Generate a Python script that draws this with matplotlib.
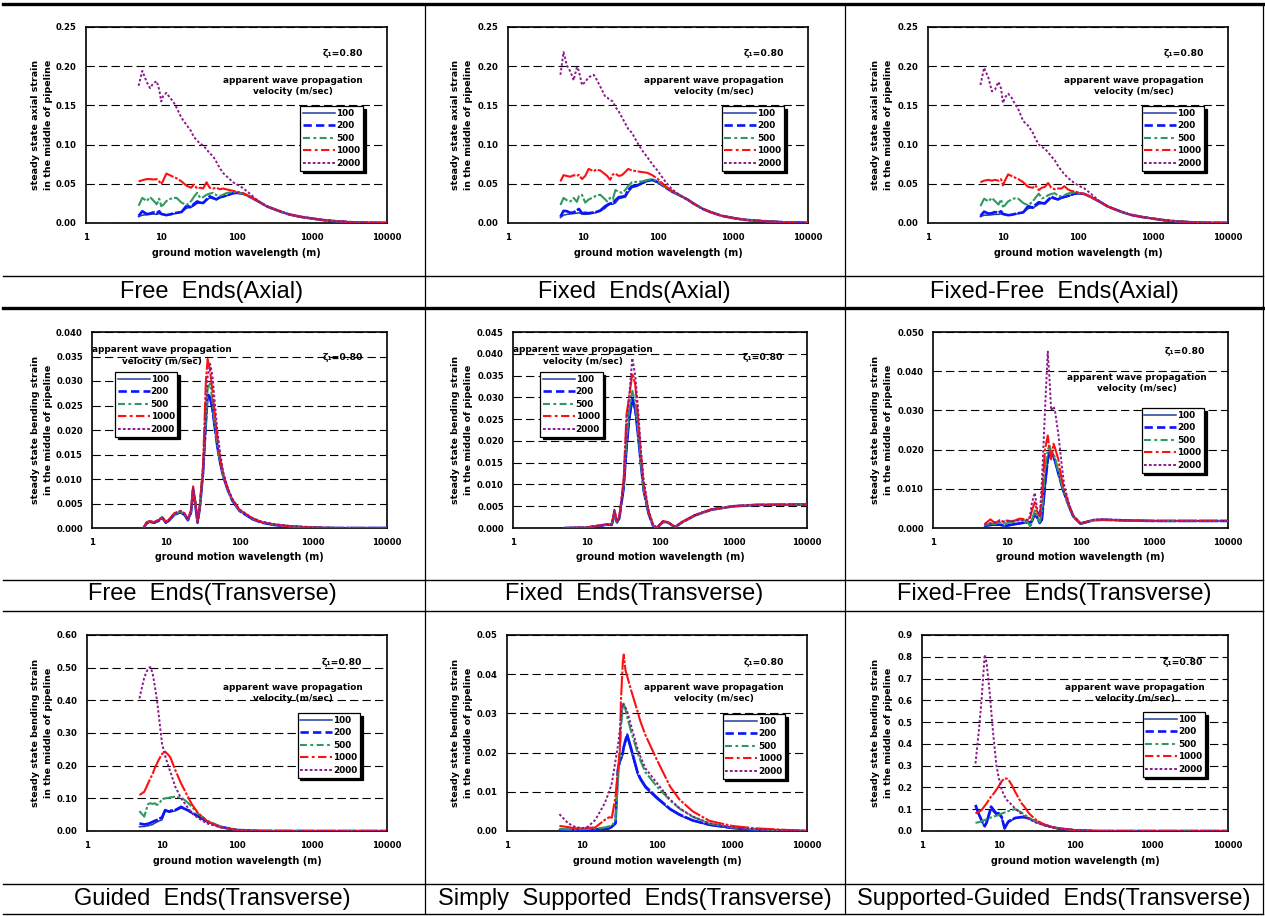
import matplotlib
matplotlib.use('Agg')
import matplotlib.pyplot as plt
from matplotlib.lines import Line2D
from matplotlib.ticker import MultipleLocator, FormatStrFormatter, FixedLocator, NullLocator

plt.rcParams['font.family'] = ['DejaVu Sans']
plt.rcParams['font.weight'] = 'bold'
plt.rcParams['lines.scale_dashes'] = False

W, H = 1265, 916

series_names = ['100', '200', '500', '1000', '2000']
series_colors = ['#1f3c9a', '#0a14ff', '#2e9a5e', '#ff1010', '#8b1a8b']
series_widths = [1.1, 1.9, 1.5, 1.5, 1.4]
plot_dashes = [None, (14, 1.2), (9, 1.5, 2, 1.5), (14, 1.2, 2, 1.2), (1.8, 1.5)]
legend_dashes = [None, (6, 3), (5, 2.5, 2, 2.5), (6, 2.5, 2, 2.5), (2, 1.5)]

x_ticks = [1, 10, 100, 1000, 10000]

# ---- Free Ends (Axial) ----
free_axial_x = [5, 5.6, 6.4, 7.1, 7.8, 8.7, 9.4, 10, 10.6, 11.7, 13, 14.4, 16, 18.6, 21.7, 25, 27, 30,
                33, 36, 40, 44, 49, 54, 60, 66, 73, 81, 90, 100, 122, 150,
                200, 250, 300, 400, 500, 700, 1000, 1400, 2000, 3500, 5000, 10000]
free_axial_tail = [0.0270, 0.0215, 0.0185, 0.0140, 0.0110, 0.0080, 0.0058, 0.0038, 0.0024, 0.0009, 0.0005, 0.0002]
free_axial_100 = [0.0080, 0.0100, 0.0105, 0.0110, 0.0115, 0.0110, 0.0120, 0.0115, 0.0110, 0.0100, 0.0105,
                  0.0115, 0.0125, 0.0140, 0.0190, 0.0200, 0.0220, 0.0250, 0.0255, 0.0250, 0.0290, 0.0320,
                  0.0310, 0.0300, 0.0320, 0.0330, 0.0345, 0.0360, 0.0375, 0.0380, 0.0375, 0.0335] + free_axial_tail
free_axial_200 = [0.0090, 0.0150, 0.0115, 0.0120, 0.0135, 0.0125, 0.0150, 0.0115, 0.0110, 0.0100, 0.0110,
                  0.0120, 0.0130, 0.0140, 0.0220, 0.0200, 0.0240, 0.0275, 0.0260, 0.0255, 0.0300, 0.0340,
                  0.0320, 0.0300, 0.0330, 0.0340, 0.0350, 0.0365, 0.0380, 0.0385, 0.0375, 0.0335] + free_axial_tail
free_axial_500 = [0.0220, 0.0320, 0.0280, 0.0330, 0.0290, 0.0240, 0.0310, 0.0215, 0.0230, 0.0280, 0.0305,
                  0.0320, 0.0320, 0.0260, 0.0230, 0.0280, 0.0330, 0.0385, 0.0320, 0.0330, 0.0360, 0.0375,
                  0.0385, 0.0355, 0.0345, 0.0360, 0.0380, 0.0390, 0.0395, 0.0390, 0.0375, 0.0335] + free_axial_tail
free_axial_1000 = [0.0530, 0.0545, 0.0560, 0.0560, 0.0555, 0.0560, 0.0530, 0.0495, 0.0540, 0.0630, 0.0610,
                   0.0590, 0.0570, 0.0530, 0.0475, 0.0450, 0.0490, 0.0440, 0.0450, 0.0440, 0.0520, 0.0450,
                   0.0440, 0.0450, 0.0430, 0.0440, 0.0430, 0.0420, 0.0410, 0.0400, 0.0380, 0.0340] + free_axial_tail
free_axial_2000 = [0.1750, 0.1940, 0.1800, 0.1720, 0.1780, 0.1810, 0.1700, 0.1550, 0.1620, 0.1660, 0.1600,
                   0.1550, 0.1470, 0.1340, 0.1250, 0.1170, 0.1100, 0.1050, 0.1010, 0.0990, 0.0940, 0.0890,
                   0.0850, 0.0780, 0.0700, 0.0640, 0.0600, 0.0560, 0.0520, 0.0495, 0.0445, 0.0375] + free_axial_tail

# ---- Fixed Ends (Axial) ----
fixed_axial_x = [5, 5.5, 6.1, 6.8, 7.5, 8.3, 8.8, 9.7, 10.7, 11.9, 13.9, 15, 17, 19.8, 21, 23, 25, 27, 30,
                 33, 36.6, 40, 45, 52, 61, 72, 84, 100, 125, 154,
                 200, 250, 300, 400, 500, 700, 1000, 1400, 2000, 3500, 5000, 10000]
fixed_axial_tail = [0.0347, 0.0297, 0.0246, 0.0178, 0.0140, 0.0093, 0.0064, 0.0042, 0.0030, 0.0017, 0.0008, 0.0004]
fixed_axial_100 = [0.0070, 0.0100, 0.0110, 0.0115, 0.0120, 0.0125, 0.0130, 0.0115, 0.0110, 0.0115, 0.0125,
                   0.0135, 0.0150, 0.0190, 0.0215, 0.0240, 0.0240, 0.0255, 0.0310, 0.0320, 0.0330, 0.0390,
                   0.0450, 0.0470, 0.0500, 0.0530, 0.0545, 0.0515, 0.0455, 0.0400] + fixed_axial_tail
fixed_axial_200 = [0.0080, 0.0155, 0.0150, 0.0130, 0.0135, 0.0160, 0.0180, 0.0125, 0.0130, 0.0125, 0.0135,
                   0.0140, 0.0160, 0.0215, 0.0230, 0.0250, 0.0250, 0.0290, 0.0330, 0.0335, 0.0345, 0.0420,
                   0.0470, 0.0475, 0.0510, 0.0540, 0.0550, 0.0520, 0.0455, 0.0400] + fixed_axial_tail
fixed_axial_500 = [0.0230, 0.0320, 0.0290, 0.0275, 0.0320, 0.0270, 0.0340, 0.0360, 0.0260, 0.0300, 0.0330,
                   0.0350, 0.0360, 0.0300, 0.0275, 0.0320, 0.0300, 0.0420, 0.0400, 0.0385, 0.0420, 0.0470,
                   0.0520, 0.0525, 0.0530, 0.0550, 0.0560, 0.0530, 0.0460, 0.0400] + fixed_axial_tail
fixed_axial_1000 = [0.0530, 0.0610, 0.0600, 0.0590, 0.0610, 0.0600, 0.0615, 0.0560, 0.0600, 0.0690, 0.0660,
                    0.0680, 0.0670, 0.0620, 0.0600, 0.0550, 0.0620, 0.0630, 0.0600, 0.0610, 0.0650, 0.0690,
                    0.0670, 0.0660, 0.0650, 0.0640, 0.0610, 0.0560, 0.0470, 0.0410] + fixed_axial_tail
fixed_axial_2000 = [0.1890, 0.2180, 0.2010, 0.1930, 0.1820, 0.1990, 0.1940, 0.1760, 0.1800, 0.1860, 0.1890,
                    0.1840, 0.1740, 0.1610, 0.1600, 0.1570, 0.1550, 0.1480, 0.1420, 0.1350, 0.1270, 0.1200,
                    0.1150, 0.1040, 0.0930, 0.0840, 0.0750, 0.0660, 0.0530, 0.0430] + fixed_axial_tail

# ---- Fixed-Free Ends (Axial) ----
ffree_axial_x = free_axial_x
ffree_axial_tail = [0.0265, 0.0210, 0.0180, 0.0135, 0.0105, 0.0078, 0.0056, 0.0036, 0.0022, 0.0008, 0.0004, 0.0002]
ffree_axial_100 = [0.0080, 0.0100, 0.0100, 0.0105, 0.0110, 0.0110, 0.0115, 0.0110, 0.0105, 0.0100, 0.0105,
                   0.0110, 0.0120, 0.0135, 0.0185, 0.0195, 0.0210, 0.0240, 0.0250, 0.0245, 0.0280, 0.0320,
                   0.0305, 0.0300, 0.0315, 0.0325, 0.0340, 0.0355, 0.0370, 0.0375, 0.0365, 0.0330] + ffree_axial_tail
ffree_axial_200 = [0.0090, 0.0145, 0.0120, 0.0125, 0.0140, 0.0130, 0.0150, 0.0115, 0.0110, 0.0100, 0.0105,
                   0.0115, 0.0125, 0.0135, 0.0215, 0.0195, 0.0230, 0.0265, 0.0255, 0.0250, 0.0295, 0.0335,
                   0.0315, 0.0300, 0.0325, 0.0335, 0.0345, 0.0360, 0.0375, 0.0380, 0.0370, 0.0330] + ffree_axial_tail
ffree_axial_500 = [0.0215, 0.0310, 0.0275, 0.0320, 0.0280, 0.0235, 0.0300, 0.0210, 0.0225, 0.0275, 0.0300,
                   0.0315, 0.0310, 0.0255, 0.0225, 0.0275, 0.0320, 0.0375, 0.0315, 0.0325, 0.0355, 0.0370,
                   0.0380, 0.0350, 0.0340, 0.0355, 0.0375, 0.0385, 0.0390, 0.0385, 0.0370, 0.0330] + ffree_axial_tail
ffree_axial_1000 = [0.0520, 0.0540, 0.0550, 0.0540, 0.0550, 0.0540, 0.0560, 0.0480, 0.0540, 0.0620, 0.0600,
                    0.0580, 0.0560, 0.0520, 0.0460, 0.0450, 0.0480, 0.0420, 0.0450, 0.0460, 0.0510, 0.0450,
                    0.0430, 0.0440, 0.0440, 0.0470, 0.0430, 0.0410, 0.0400, 0.0390, 0.0370, 0.0330] + ffree_axial_tail
ffree_axial_2000 = [0.1760, 0.1980, 0.1850, 0.1680, 0.1700, 0.1800, 0.1720, 0.1530, 0.1600, 0.1650, 0.1600,
                    0.1520, 0.1450, 0.1300, 0.1240, 0.1150, 0.1080, 0.1000, 0.0970, 0.0950, 0.0900, 0.0850,
                    0.0800, 0.0730, 0.0670, 0.0620, 0.0580, 0.0540, 0.0510, 0.0480, 0.0440, 0.0370] + ffree_axial_tail

# ---- Free Ends (Transverse) ----
free_trans_x = [5, 5.5, 6, 7, 8, 8.5, 9, 10, 11, 13, 15, 16, 18, 20, 22, 23.5, 25, 27, 29, 32, 35, 37, 40,
                43, 46, 50, 55, 60, 70, 80, 100, 150, 200, 300, 500, 1000, 2000, 10000]
free_trans_100 = [0.0000, 0.0008, 0.0012, 0.0010, 0.0014, 0.0018, 0.0020, 0.0010, 0.0014, 0.0026, 0.0030,
                  0.0031, 0.0026, 0.0015, 0.0030, 0.0075, 0.0050, 0.0010, 0.0040, 0.0110, 0.0210, 0.0268,
                  0.0262, 0.0240, 0.0205, 0.0165, 0.0130, 0.0105, 0.0075, 0.0055, 0.0035, 0.0018, 0.0011,
                  0.0006, 0.0003, 0.0001, 0.0000, 0.0000]
free_trans_200 = [0.0000, 0.0010, 0.0013, 0.0011, 0.0015, 0.0019, 0.0021, 0.0011, 0.0015, 0.0027, 0.0031,
                  0.0032, 0.0027, 0.0016, 0.0032, 0.0078, 0.0052, 0.0011, 0.0042, 0.0112, 0.0215, 0.0274,
                  0.0266, 0.0243, 0.0208, 0.0167, 0.0132, 0.0106, 0.0076, 0.0056, 0.0035, 0.0018, 0.0011,
                  0.0006, 0.0003, 0.0001, 0.0000, 0.0000]
free_trans_500 = [0.0000, 0.0011, 0.0013, 0.0012, 0.0016, 0.0019, 0.0022, 0.0012, 0.0016, 0.0028, 0.0032,
                  0.0033, 0.0028, 0.0017, 0.0034, 0.0080, 0.0055, 0.0012, 0.0045, 0.0120, 0.0220, 0.0285,
                  0.0295, 0.0258, 0.0215, 0.0170, 0.0135, 0.0108, 0.0077, 0.0057, 0.0036, 0.0019, 0.0012,
                  0.0007, 0.0003, 0.0001, 0.0000, 0.0000]
free_trans_1000 = [0.0000, 0.0012, 0.0014, 0.0012, 0.0017, 0.0020, 0.0022, 0.0013, 0.0017, 0.0030, 0.0034,
                   0.0035, 0.0030, 0.0018, 0.0036, 0.0085, 0.0058, 0.0013, 0.0047, 0.0125, 0.0300, 0.0345,
                   0.0320, 0.0280, 0.0235, 0.0185, 0.0140, 0.0110, 0.0078, 0.0058, 0.0037, 0.0020, 0.0012,
                   0.0007, 0.0003, 0.0001, 0.0000, 0.0000]
free_trans_2000 = [0.0000, 0.0010, 0.0013, 0.0012, 0.0016, 0.0019, 0.0021, 0.0012, 0.0016, 0.0029, 0.0033,
                   0.0034, 0.0029, 0.0017, 0.0034, 0.0082, 0.0056, 0.0012, 0.0044, 0.0115, 0.0250, 0.0310,
                   0.0335, 0.0310, 0.0260, 0.0200, 0.0150, 0.0115, 0.0080, 0.0060, 0.0038, 0.0020, 0.0013,
                   0.0008, 0.0004, 0.0001, 0.0000, 0.0000]

# ---- Fixed Ends (Transverse) ----
fixed_trans_x = [5, 10, 15, 20, 22, 24, 26, 28, 32, 35, 38, 42, 46, 50, 55, 60, 70, 80, 90, 110, 130, 160,
                 200, 300, 500, 1000, 2000, 10000]
fixed_trans_100 = [0.0000, 0.0001, 0.0005, 0.0008, 0.0006, 0.0030, 0.0012, 0.0022, 0.0090, 0.0180, 0.0245,
                   0.0293, 0.0270, 0.0215, 0.0145, 0.0085, 0.0032, 0.0006, 0.0000, 0.0014, 0.0012, 0.0002,
                   0.0013, 0.0029, 0.0042, 0.0050, 0.0053, 0.0054]
fixed_trans_200 = [0.0000, 0.0001, 0.0005, 0.0008, 0.0007, 0.0031, 0.0013, 0.0023, 0.0092, 0.0183, 0.0250,
                   0.0297, 0.0273, 0.0218, 0.0147, 0.0086, 0.0033, 0.0006, 0.0000, 0.0014, 0.0012, 0.0002,
                   0.0013, 0.0029, 0.0042, 0.0050, 0.0053, 0.0054]
fixed_trans_500 = [0.0000, 0.0001, 0.0006, 0.0009, 0.0008, 0.0034, 0.0014, 0.0025, 0.0100, 0.0200, 0.0270,
                   0.0315, 0.0290, 0.0230, 0.0152, 0.0088, 0.0034, 0.0007, 0.0000, 0.0015, 0.0012, 0.0002,
                   0.0013, 0.0029, 0.0042, 0.0050, 0.0053, 0.0054]
fixed_trans_1000 = [0.0000, 0.0001, 0.0006, 0.0009, 0.0008, 0.0042, 0.0015, 0.0027, 0.0110, 0.0260, 0.0300,
                    0.0355, 0.0330, 0.0260, 0.0170, 0.0100, 0.0038, 0.0008, 0.0000, 0.0016, 0.0013, 0.0002,
                    0.0014, 0.0030, 0.0043, 0.0050, 0.0053, 0.0054]
fixed_trans_2000 = [0.0000, 0.0001, 0.0006, 0.0009, 0.0008, 0.0040, 0.0015, 0.0026, 0.0105, 0.0240, 0.0300,
                    0.0390, 0.0350, 0.0280, 0.0180, 0.0110, 0.0040, 0.0009, 0.0001, 0.0016, 0.0013, 0.0003,
                    0.0014, 0.0030, 0.0043, 0.0050, 0.0053, 0.0054]

# ---- Fixed-Free Ends (Transverse) ----
ffree_trans_x = [5, 6, 7, 8, 9, 10, 12, 15, 18, 20, 21, 22, 24, 26, 28, 30, 33, 36, 38, 40, 43, 45, 50, 55,
                 60, 70, 80, 100, 120, 150, 200, 500, 1000, 10000]
ffree_trans_100 = [0.0004, 0.0006, 0.0008, 0.0007, 0.0005, 0.0005, 0.0008, 0.0011, 0.0013, 0.0013, 0.0014,
                   0.0016, 0.0034, 0.0025, 0.0012, 0.0020, 0.0105, 0.0170, 0.0190, 0.0192, 0.0180, 0.0170,
                   0.0138, 0.0110, 0.0088, 0.0054, 0.0028, 0.0011, 0.0015, 0.0020, 0.0021, 0.0019, 0.0018, 0.0018]
ffree_trans_200 = [0.0005, 0.0010, 0.0008, 0.0009, 0.0007, 0.0006, 0.0009, 0.0012, 0.0014, 0.0014, 0.0015,
                   0.0018, 0.0036, 0.0026, 0.0013, 0.0022, 0.0110, 0.0175, 0.0193, 0.0195, 0.0183, 0.0172,
                   0.0140, 0.0112, 0.0089, 0.0055, 0.0029, 0.0011, 0.0015, 0.0020, 0.0021, 0.0019, 0.0018, 0.0018]
ffree_trans_500 = [0.0006, 0.0012, 0.0010, 0.0013, 0.0011, 0.0012, 0.0015, 0.0020, 0.0019, 0.0010, 0.0000,
                   0.0020, 0.0045, 0.0028, 0.0015, 0.0040, 0.0150, 0.0200, 0.0210, 0.0195, 0.0190, 0.0180,
                   0.0145, 0.0115, 0.0090, 0.0055, 0.0030, 0.0012, 0.0016, 0.0020, 0.0021, 0.0019, 0.0018, 0.0018]
ffree_trans_1000 = [0.0010, 0.0022, 0.0012, 0.0020, 0.0016, 0.0019, 0.0017, 0.0024, 0.0022, 0.0020, 0.0030,
                    0.0045, 0.0066, 0.0040, 0.0030, 0.0080, 0.0200, 0.0236, 0.0200, 0.0175, 0.0215, 0.0205,
                    0.0175, 0.0130, 0.0100, 0.0058, 0.0030, 0.0012, 0.0016, 0.0020, 0.0021, 0.0019, 0.0018, 0.0018]
ffree_trans_2000 = [0.0008, 0.0012, 0.0015, 0.0017, 0.0016, 0.0018, 0.0018, 0.0020, 0.0019, 0.0022, 0.0040,
                    0.0065, 0.0090, 0.0045, 0.0030, 0.0120, 0.0300, 0.0450, 0.0380, 0.0300, 0.0310, 0.0300,
                    0.0240, 0.0170, 0.0110, 0.0060, 0.0032, 0.0012, 0.0016, 0.0021, 0.0022, 0.0019, 0.0018, 0.0018]

# ---- Guided Ends (Transverse) ----
guided_x = [5, 5.8, 6.5, 7, 7.5, 8, 8.5, 9, 10, 11, 12.5, 13, 15, 18, 20, 22, 25, 30, 40, 60, 100, 200,
            1000, 10000]
guided_100 = [0.013, 0.014, 0.016, 0.018, 0.020, 0.024, 0.027, 0.030, 0.034, 0.060, 0.060, 0.058, 0.062,
              0.070, 0.067, 0.062, 0.055, 0.044, 0.028, 0.012, 0.003, 0.000, 0.000, 0.000]
guided_200 = [0.023, 0.020, 0.022, 0.025, 0.028, 0.031, 0.033, 0.036, 0.042, 0.064, 0.059, 0.062, 0.064,
              0.074, 0.068, 0.064, 0.056, 0.046, 0.029, 0.013, 0.003, 0.0005, 0.000, 0.000]
guided_500 = [0.061, 0.044, 0.082, 0.085, 0.083, 0.085, 0.080, 0.082, 0.097, 0.100, 0.102, 0.103, 0.105,
              0.102, 0.095, 0.087, 0.074, 0.054, 0.032, 0.013, 0.003, 0.000, 0.000, 0.000]
guided_1000 = [0.110, 0.120, 0.145, 0.161, 0.175, 0.192, 0.205, 0.217, 0.236, 0.243, 0.230, 0.224, 0.187,
               0.145, 0.125, 0.106, 0.082, 0.056, 0.030, 0.012, 0.003, 0.000, 0.000, 0.000]
guided_2000 = [0.406, 0.470, 0.497, 0.502, 0.483, 0.445, 0.406, 0.360, 0.268, 0.230, 0.190, 0.180, 0.136,
               0.100, 0.085, 0.072, 0.055, 0.040, 0.023, 0.011, 0.003, 0.000, 0.000, 0.000]

# ---- Simply Supported Ends (Transverse) ----
simple_x = [5, 6.5, 8, 10, 12, 15, 20, 23, 25, 28, 30, 32, 33, 35, 36, 38, 40, 45, 55, 60, 70, 100, 150,
            200, 300, 500, 1000, 2000, 10000]
simple_100 = [0.0003, 0.0002, 0.0002, 0.0002, 0.0002, 0.0003, 0.0004, 0.0006, 0.0010, 0.0018, 0.0150,
              0.0175, 0.0180, 0.0195, 0.0210, 0.0225, 0.0240, 0.0205, 0.0145, 0.0130, 0.0110, 0.0082,
              0.0054, 0.0040, 0.0026, 0.0015, 0.0007, 0.0003, 0.0000]
simple_200 = [0.0004, 0.0003, 0.0003, 0.0003, 0.0003, 0.0004, 0.0005, 0.0007, 0.0011, 0.0020, 0.0155,
              0.0180, 0.0185, 0.0200, 0.0215, 0.0232, 0.0246, 0.0212, 0.0150, 0.0134, 0.0114, 0.0085,
              0.0056, 0.0042, 0.0027, 0.0016, 0.0008, 0.0003, 0.0000]
simple_500 = [0.0005, 0.0004, 0.0004, 0.0005, 0.0005, 0.0006, 0.0009, 0.0012, 0.0013, 0.0030, 0.0120,
              0.0200, 0.0260, 0.0320, 0.0325, 0.0310, 0.0290, 0.0255, 0.0200, 0.0180, 0.0150, 0.0113,
              0.0078, 0.0057, 0.0036, 0.0019, 0.0009, 0.0004, 0.0000]
simple_1000 = [0.0013, 0.0010, 0.0007, 0.0007, 0.0008, 0.0009, 0.0028, 0.0035, 0.0034, 0.0088, 0.0150,
               0.0210, 0.0330, 0.0430, 0.0450, 0.0410, 0.0395, 0.0360, 0.0305, 0.0280, 0.0245, 0.0181,
               0.0113, 0.0080, 0.0050, 0.0026, 0.0013, 0.0007, 0.0000]
simple_2000 = [0.0043, 0.0020, 0.0011, 0.0007, 0.0011, 0.0028, 0.0070, 0.0100, 0.0122, 0.0180, 0.0215,
               0.0260, 0.0290, 0.0326, 0.0320, 0.0315, 0.0305, 0.0270, 0.0210, 0.0190, 0.0160, 0.0122,
               0.0080, 0.0058, 0.0037, 0.0020, 0.0009, 0.0004, 0.0000]

# ---- Supported-Guided Ends (Transverse) ----
sguided_x = [5, 5.5, 6, 6.6, 7, 7.7, 8, 8.5, 9.4, 10, 11, 12, 13, 13.6, 15, 16.5, 20, 22, 25, 30, 33, 40,
             50, 60, 100, 200, 1000, 10000]
sguided_100 = [0.110, 0.075, 0.045, 0.020, 0.035, 0.080, 0.100, 0.090, 0.075, 0.078, 0.060, 0.010, 0.030,
               0.040, 0.050, 0.058, 0.062, 0.062, 0.057, 0.044, 0.038, 0.027, 0.017, 0.011, 0.003, 0.000,
               0.000, 0.000]
sguided_200 = [0.120, 0.080, 0.050, 0.022, 0.040, 0.090, 0.112, 0.100, 0.080, 0.082, 0.065, 0.012, 0.035,
               0.045, 0.052, 0.060, 0.064, 0.063, 0.058, 0.045, 0.039, 0.028, 0.018, 0.012, 0.003, 0.000,
               0.000, 0.000]
sguided_500 = [0.038, 0.040, 0.045, 0.050, 0.054, 0.060, 0.062, 0.066, 0.070, 0.073, 0.080, 0.085, 0.089,
               0.092, 0.097, 0.100, 0.085, 0.075, 0.060, 0.045, 0.038, 0.028, 0.018, 0.012, 0.004, 0.000,
               0.000, 0.000]
sguided_1000 = [0.081, 0.088, 0.096, 0.115, 0.127, 0.150, 0.158, 0.168, 0.190, 0.204, 0.228, 0.242, 0.240,
                0.234, 0.210, 0.180, 0.127, 0.110, 0.081, 0.055, 0.045, 0.029, 0.018, 0.012, 0.004, 0.000,
                0.000, 0.000]
sguided_2000 = [0.310, 0.450, 0.600, 0.810, 0.770, 0.630, 0.560, 0.450, 0.300, 0.250, 0.190, 0.160, 0.140,
                0.135, 0.118, 0.104, 0.078, 0.066, 0.055, 0.040, 0.035, 0.025, 0.017, 0.011, 0.005, 0.000,
                0.000, 0.000]

axial_label = 'steady state axial strain\nin the middle of pipeline'
bending_label = 'steady state bending strain\nin the middle of pipeline'
note_text = 'apparent wave propagation\nvelocity (m/sec)'
zeta_text = '\u03b6\u2081=0.80'

fig = plt.figure(figsize=(W / 100, H / 100), dpi=100)


def draw_panel(box, x, ys, ymax, ystep, yfmt, ylabel, ylab_x, leg_loc, leg_anchor, zeta_xy, note_xy):
    l, t, r, b = box
    ax = fig.add_axes([l / W, 1 - b / H, (r - l) / W, (b - t) / H])
    ax.set_xscale('log')
    for y, c, lw, d in zip(ys, series_colors, series_widths, plot_dashes):
        line, = ax.plot(x, y, color=c, lw=lw, zorder=3)
        if d is not None:
            line.set_dashes(d)
    ax.set_xlim(1, 10000)
    ax.set_ylim(0, ymax)
    ax.xaxis.set_major_locator(FixedLocator(x_ticks))
    ax.xaxis.set_minor_locator(NullLocator())
    ax.xaxis.set_major_formatter(FormatStrFormatter('%d'))
    ax.yaxis.set_major_locator(MultipleLocator(ystep))
    ax.yaxis.set_major_formatter(FormatStrFormatter(yfmt))
    ax.tick_params(axis='both', length=0, labelsize=6.1)
    ax.tick_params(axis='y', pad=6.5)
    ax.tick_params(axis='x', pad=7)
    for lab in ax.get_xticklabels() + ax.get_yticklabels():
        lab.set_fontweight('bold')
    ax.yaxis.grid(True, color='black', lw=0.8, linestyle=(0, (6, 3)), zorder=1)
    ax.set_axisbelow(True)
    for s in ax.spines.values():
        s.set_linewidth(1.2)
    ax.set_ylabel(ylabel, fontsize=6.8, fontweight='bold', linespacing=1.6)
    ax.yaxis.set_label_coords(ylab_x, 0.5)
    ax.set_xlabel('ground motion wavelength (m)', fontsize=6.9, fontweight='bold')
    ax.xaxis.set_label_coords(0.5, -0.125)

    handles = []
    for name, c, lw, d in zip(series_names, series_colors, series_widths, legend_dashes):
        h = Line2D([], [], color=c, lw=lw)
        if d is not None:
            h.set_dashes(d)
        handles.append(h)
    leg = ax.legend(handles, series_names, loc=leg_loc, bbox_to_anchor=leg_anchor,
                    fontsize=6.4, frameon=True, fancybox=False, shadow={'color': 'black', 'alpha': 1.0},
                    edgecolor='black', framealpha=1, handlelength=3.6, handletextpad=0.1,
                    labelspacing=0.4, borderpad=0.3, borderaxespad=0)
    leg.get_frame().set_linewidth(0.9)
    for txt in leg.get_texts():
        txt.set_fontweight('bold')

    ax.text(zeta_xy[0], zeta_xy[1], zeta_text, transform=ax.transAxes, ha='right', va='center',
            fontsize=6.7, fontweight='bold')
    ax.text(note_xy[0], note_xy[1], note_text, transform=ax.transAxes, ha='center', va='center',
            fontsize=6.4, fontweight='bold', linespacing=1.3, zorder=5)
    return ax


draw_panel((86, 27, 387, 223), free_axial_x,
           [free_axial_100, free_axial_200, free_axial_500, free_axial_1000, free_axial_2000],
           0.25, 0.05, '%.2f', axial_label, -0.11, 'upper right', (0.92, 0.597), (0.92, 0.867), (0.688, 0.70))
draw_panel((508, 27, 808, 223), fixed_axial_x,
           [fixed_axial_100, fixed_axial_200, fixed_axial_500, fixed_axial_1000, fixed_axial_2000],
           0.25, 0.05, '%.2f', axial_label, -0.117, 'upper right', (0.92, 0.597), (0.92, 0.867), (0.687, 0.70))
draw_panel((928, 27, 1228, 223), ffree_axial_x,
           [ffree_axial_100, ffree_axial_200, ffree_axial_500, ffree_axial_1000, ffree_axial_2000],
           0.25, 0.05, '%.2f', axial_label, -0.117, 'upper right', (0.92, 0.597), (0.92, 0.867), (0.687, 0.70))

draw_panel((92, 332, 387, 528), free_trans_x,
           [free_trans_100, free_trans_200, free_trans_500, free_trans_1000, free_trans_2000],
           0.040, 0.005, '%.3f', bending_label, -0.132, 'upper left', (0.078, 0.796), (0.919, 0.872), (0.237, 0.88))
draw_panel((513, 332, 807, 528), fixed_trans_x,
           [fixed_trans_100, fixed_trans_200, fixed_trans_500, fixed_trans_1000, fixed_trans_2000],
           0.045, 0.005, '%.3f', bending_label, -0.136, 'upper left', (0.092, 0.796), (0.92, 0.872), (0.238, 0.88))
draw_panel((933, 332, 1228, 528), ffree_trans_x,
           [ffree_trans_100, ffree_trans_200, ffree_trans_500, ffree_trans_1000, ffree_trans_2000],
           0.050, 0.010, '%.3f', bending_label, -0.136, 'upper right', (0.919, 0.612), (0.922, 0.898), (0.69, 0.74))

draw_panel((87, 635, 387, 831), guided_x,
           [guided_100, guided_200, guided_500, guided_1000, guided_2000],
           0.60, 0.10, '%.2f', bending_label, -0.113, 'upper right', (0.91, 0.602), (0.917, 0.862), (0.687, 0.704))
draw_panel((507, 635, 807, 831), simple_x,
           [simple_100, simple_200, simple_500, simple_1000, simple_2000],
           0.05, 0.01, '%.2f', bending_label, -0.113, 'upper right', (0.927, 0.597), (0.923, 0.862), (0.69, 0.704))
draw_panel((922, 635, 1228, 831), sguided_x,
           [sguided_100, sguided_200, sguided_500, sguided_1000, sguided_2000],
           0.9, 0.1, '%.1f', bending_label, -0.095, 'upper right', (0.925, 0.607), (0.92, 0.862), (0.696, 0.704))


# table lines
def hline(y, lw):
    fig.add_artist(Line2D([3 / W, 1263 / W], [1 - y / H, 1 - y / H], color='black', lw=lw,
                          transform=fig.transFigure))


def vline(x, lw):
    fig.add_artist(Line2D([x / W, x / W], [1 - 4 / H, 1 - 914 / H], color='black', lw=lw,
                          transform=fig.transFigure))


hline(4, 2.4)
hline(276, 1.0)
hline(308, 2.4)
hline(580, 1.0)
hline(611, 1.0)
hline(884, 1.0)
hline(914, 1.0)
vline(424.5, 0.9)
vline(845, 0.9)
vline(1262.5, 0.9)

captions = [['Free  Ends(Axial)', 'Fixed  Ends(Axial)', 'Fixed-Free  Ends(Axial)'],
            ['Free  Ends(Transverse)', 'Fixed  Ends(Transverse)', 'Fixed-Free  Ends(Transverse)'],
            ['Guided  Ends(Transverse)', 'Simply  Supported  Ends(Transverse)', 'Supported-Guided  Ends(Transverse)']]
caption_cx = [212, 634.5, 1054]
caption_cy = [292, 594, 899]
for row, cy in zip(captions, caption_cy):
    for text, cx in zip(row, caption_cx):
        fig.text(cx / W, 1 - cy / H, text, ha='center', va='center', fontsize=17,
                 family='Liberation Sans', fontweight='normal')

fig.savefig('out.png', dpi=100)
